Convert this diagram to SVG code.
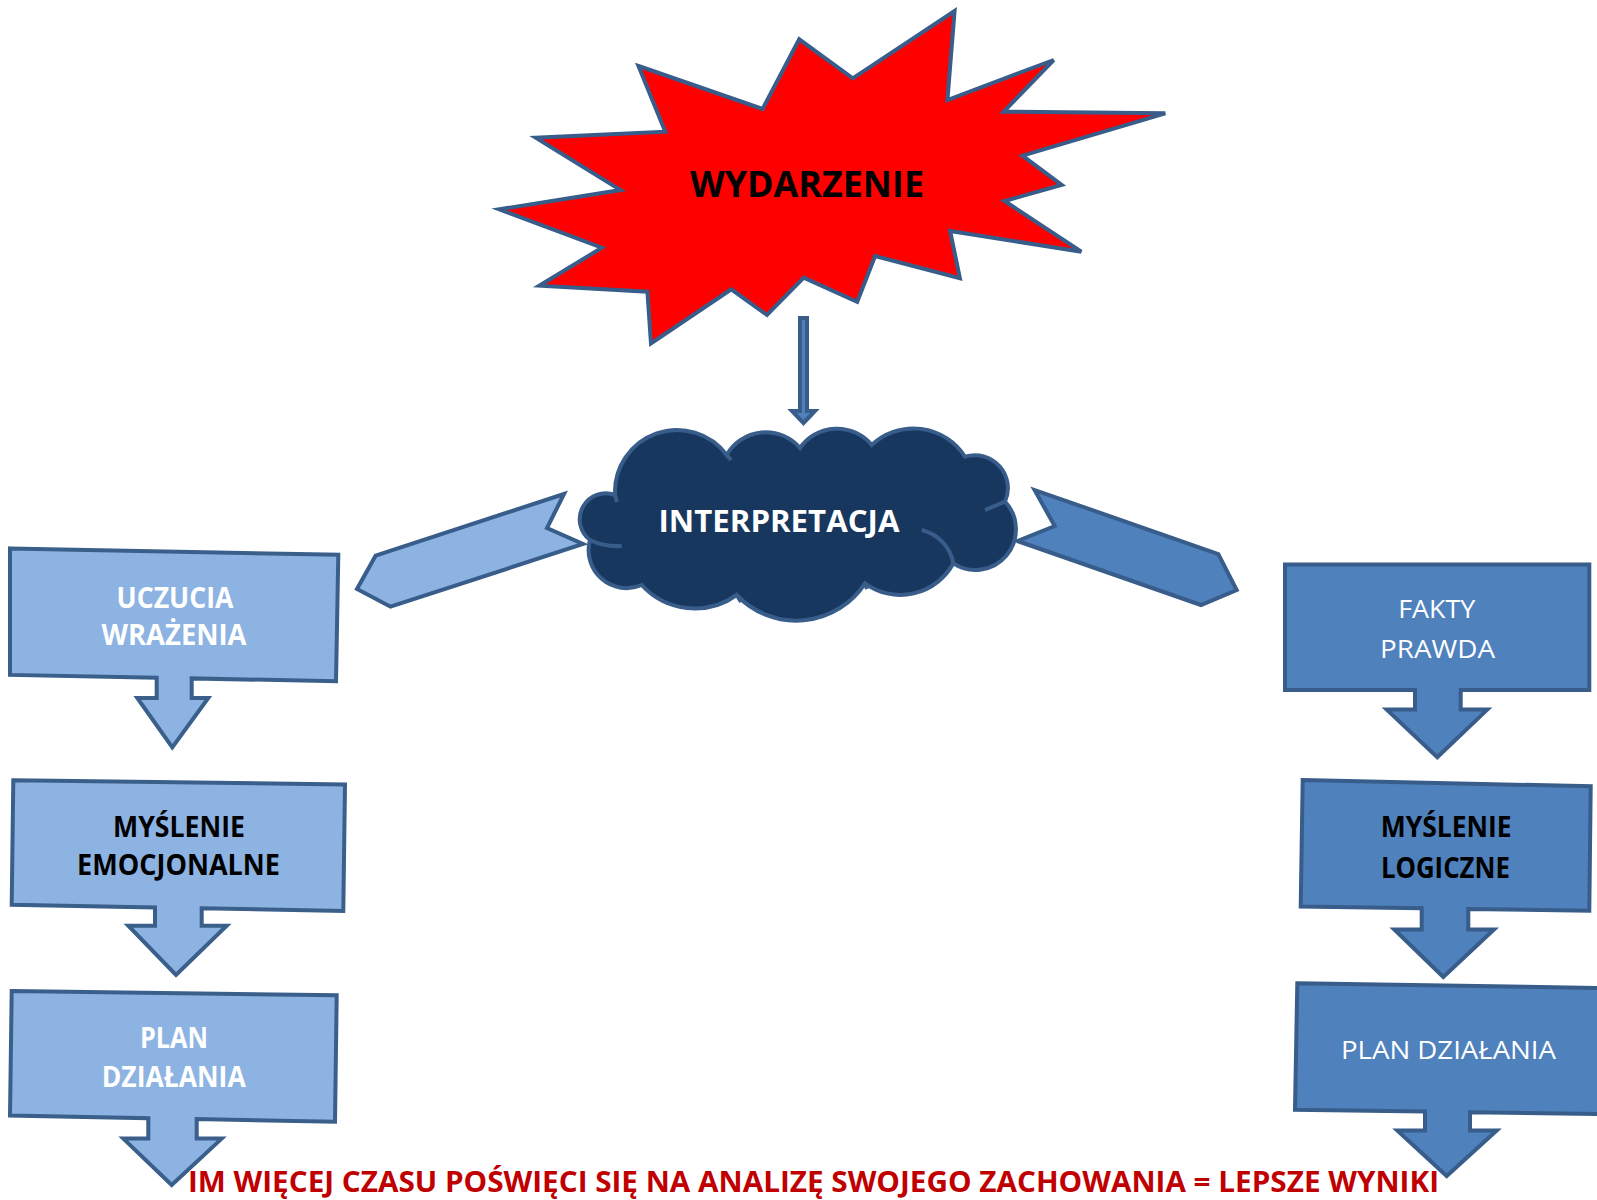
<svg xmlns="http://www.w3.org/2000/svg" width="1597" height="1200" viewBox="0 0 1597 1200">
<defs>
<style>
.star{fill:#FF0000;stroke:#385D8A;stroke-width:4;stroke-linejoin:miter}
.cloud{fill:#17375E;stroke:#385D8A;stroke-width:4}
.inner{fill:none;stroke:#385D8A;stroke-width:4;stroke-linecap:butt}
.bl{fill:#8DB3E2;stroke:#3A5F8B;stroke-width:4;stroke-linejoin:miter}
.br{fill:#4F81BD;stroke:#385D8A;stroke-width:4;stroke-linejoin:miter}
.conn{stroke:#385D8A;stroke-width:4;stroke-linejoin:miter}
.t{font-family:"Open Sans","Liberation Sans",sans-serif;text-anchor:middle}
.bd{font-weight:bold}
.w{fill:#FFFFFF}
.k{fill:#000000}
.red{fill:#C00000}
</style>
</defs>
<rect x="0" y="0" width="1597" height="1200" fill="#FFFFFF"/>

<g id="connectors">
<path class="conn" fill="#4F81BD" d="M800,318 L807,318 L807,411 L815,411 L803.5,423 L792,411 L800,411 Z"/>
<polygon class="conn" fill="#8DB3E2" points="564,494 547,528 583,544 390.5,606.7 357,589 375.6,555.7"/>
<polygon class="conn" fill="#4F81BD" points="1034.6,490 1054.7,526 1017.4,541 1201,605 1236.7,590 1218.3,554"/>
</g>

<g id="wydarzenie">
<polygon class="star" points="638.5,66 762.6,109 799.2,39.3 852.8,78.3 954.6,11 947.4,100 1053.7,60 1003.7,111.7 1165.3,113.3 1022.4,155.7 1061.7,185 1004.5,201 1081.3,251.7 950.1,231 959.9,278.3 875.1,256 857.2,301.7 803.7,277.7 767,315 731.3,289.3 651,343.3 647.4,291.7 539.4,285.7 601.9,247.7 499.2,209.3 620.6,190 535.8,137.7 665.3,131.7"/>
<text class="t bd k" x="807" y="196.5" font-size="36" textLength="234" lengthAdjust="spacingAndGlyphs">WYDARZENIE</text>
</g>

<g id="interpretacja">
<path class="cloud" d="M615,495 A62,62 0 0 1 726.7,455 A45,45 0 0 1 800,448 A45,45 0 0 1 871.7,445 A61,61 0 0 1 965,456.7 A33,33 0 0 1 1005,501.7 A40.5,40.5 0 0 1 953.3,563.3 A60,60 0 0 1 865,583.3 A82,82 0 0 1 736.7,595 A72,72 0 0 1 641.7,585 A38,38 0 0 1 590,540 A26,26 0 0 1 615,495 Z"/>
<path class="inner" d="M921.7,530 A42,42 0 0 1 953.3,563.3"/>
<path class="inner" d="M590,540 Q604,547 621.7,546"/>
<path class="inner" d="M1005,501.7 L985,510"/>
<path class="inner" d="M726.7,455 L731,460"/>
<path class="inner" d="M615,495 L617,502"/>
<path class="inner" d="M736.7,595 L741,602"/>
<path class="inner" d="M865,583.3 L867,589"/>
<text class="t bd w" x="779" y="531.5" font-size="30" textLength="241" lengthAdjust="spacingAndGlyphs">INTERPRETACJA</text>
</g>

<g id="uczucia-wrazenia">
<path class="bl" d="M10,548.4 L338.3,554.8 L336,681.2 L191.7,678.4 L191.7,698 L208.3,698 L172.3,747.4 L137.3,698 L156.7,698 L156.7,677.7 L10,674.9 Z"/>
<text class="t bd w" x="175" y="607.5" font-size="28" textLength="117" lengthAdjust="spacingAndGlyphs">UCZUCIA</text>
<text class="t bd w" x="174" y="644.5" font-size="28" textLength="145" lengthAdjust="spacingAndGlyphs">WRAŻENIA</text>
</g>

<g id="myslenie-emocjonalne">
<path class="bl" d="M13.3,780.3 L345,784.5 L343.3,911 L201.7,908.3 L201.7,925.7 L226.7,925.7 L176,975 L128.3,925.7 L155,925.7 L155,907.4 L11.7,904.7 Z"/>
<text class="t bd k" x="179" y="837" font-size="28" textLength="132" lengthAdjust="spacingAndGlyphs">MYŚLENIE</text>
<text class="t bd k" x="178.5" y="875" font-size="28" textLength="203" lengthAdjust="spacingAndGlyphs">EMOCJONALNE</text>
</g>

<g id="plan-dzialania-lewy">
<path class="bl" d="M11.7,991 L336.7,995.3 L335,1121.8 L196.7,1119.1 L196.7,1138.6 L221.7,1138.6 L171.7,1185 L123.3,1138.6 L148.3,1138.6 L148.3,1118.2 L10,1115.5 Z"/>
<text class="t bd w" x="174" y="1048" font-size="28" textLength="68" lengthAdjust="spacingAndGlyphs">PLAN</text>
<text class="t bd w" x="173.7" y="1086.8" font-size="28" textLength="144" lengthAdjust="spacingAndGlyphs">DZIAŁANIA</text>
</g>

<g id="fakty-prawda">
<path class="br" d="M1285,564.5 L1589.3,564.5 L1589.3,690 L1460.7,690 L1460.7,709.6 L1487.3,709.6 L1437.3,757.3 L1386.7,709.6 L1415,709.6 L1415,690 L1285,690 Z"/>
<text class="t w" x="1436.7" y="618.4" font-size="26" textLength="77" lengthAdjust="spacingAndGlyphs">FAKTY</text>
<text class="t w" x="1437.5" y="657.8" font-size="26" textLength="115" lengthAdjust="spacingAndGlyphs">PRAWDA</text>
</g>

<g id="myslenie-logiczne">
<path class="br" d="M1302.7,780 L1590.7,786.3 L1589.3,910.7 L1468.3,909 L1468.3,929.4 L1494,929.4 L1443.3,977 L1394.3,929.4 L1421.7,929.4 L1421.7,908.3 L1300.7,906.5 Z"/>
<text class="t bd k" x="1446.2" y="837.3" font-size="28" textLength="131" lengthAdjust="spacingAndGlyphs">MYŚLENIE</text>
<text class="t bd k" x="1445.4" y="877.5" font-size="28" textLength="129" lengthAdjust="spacingAndGlyphs">LOGICZNE</text>
</g>

<g id="plan-dzialania-prawy">
<path class="br" d="M1297.3,983.3 L1602,988 L1602,1114 L1470,1112.2 L1470,1130.4 L1496.7,1130.4 L1446.7,1176 L1397.3,1130.4 L1425,1130.4 L1425,1111.5 L1295,1109.7 Z"/>
<text class="t w" x="1448.5" y="1059" font-size="26" textLength="215" lengthAdjust="spacingAndGlyphs">PLAN DZIAŁANIA</text>
</g>

<g id="podsumowanie">
<text class="t bd red" x="813.5" y="1192" font-size="28.5" textLength="1251" lengthAdjust="spacingAndGlyphs">IM WIĘCEJ CZASU POŚWIĘCI SIĘ NA ANALIZĘ SWOJEGO ZACHOWANIA = LEPSZE WYNIKI</text>
</g>
</svg>
